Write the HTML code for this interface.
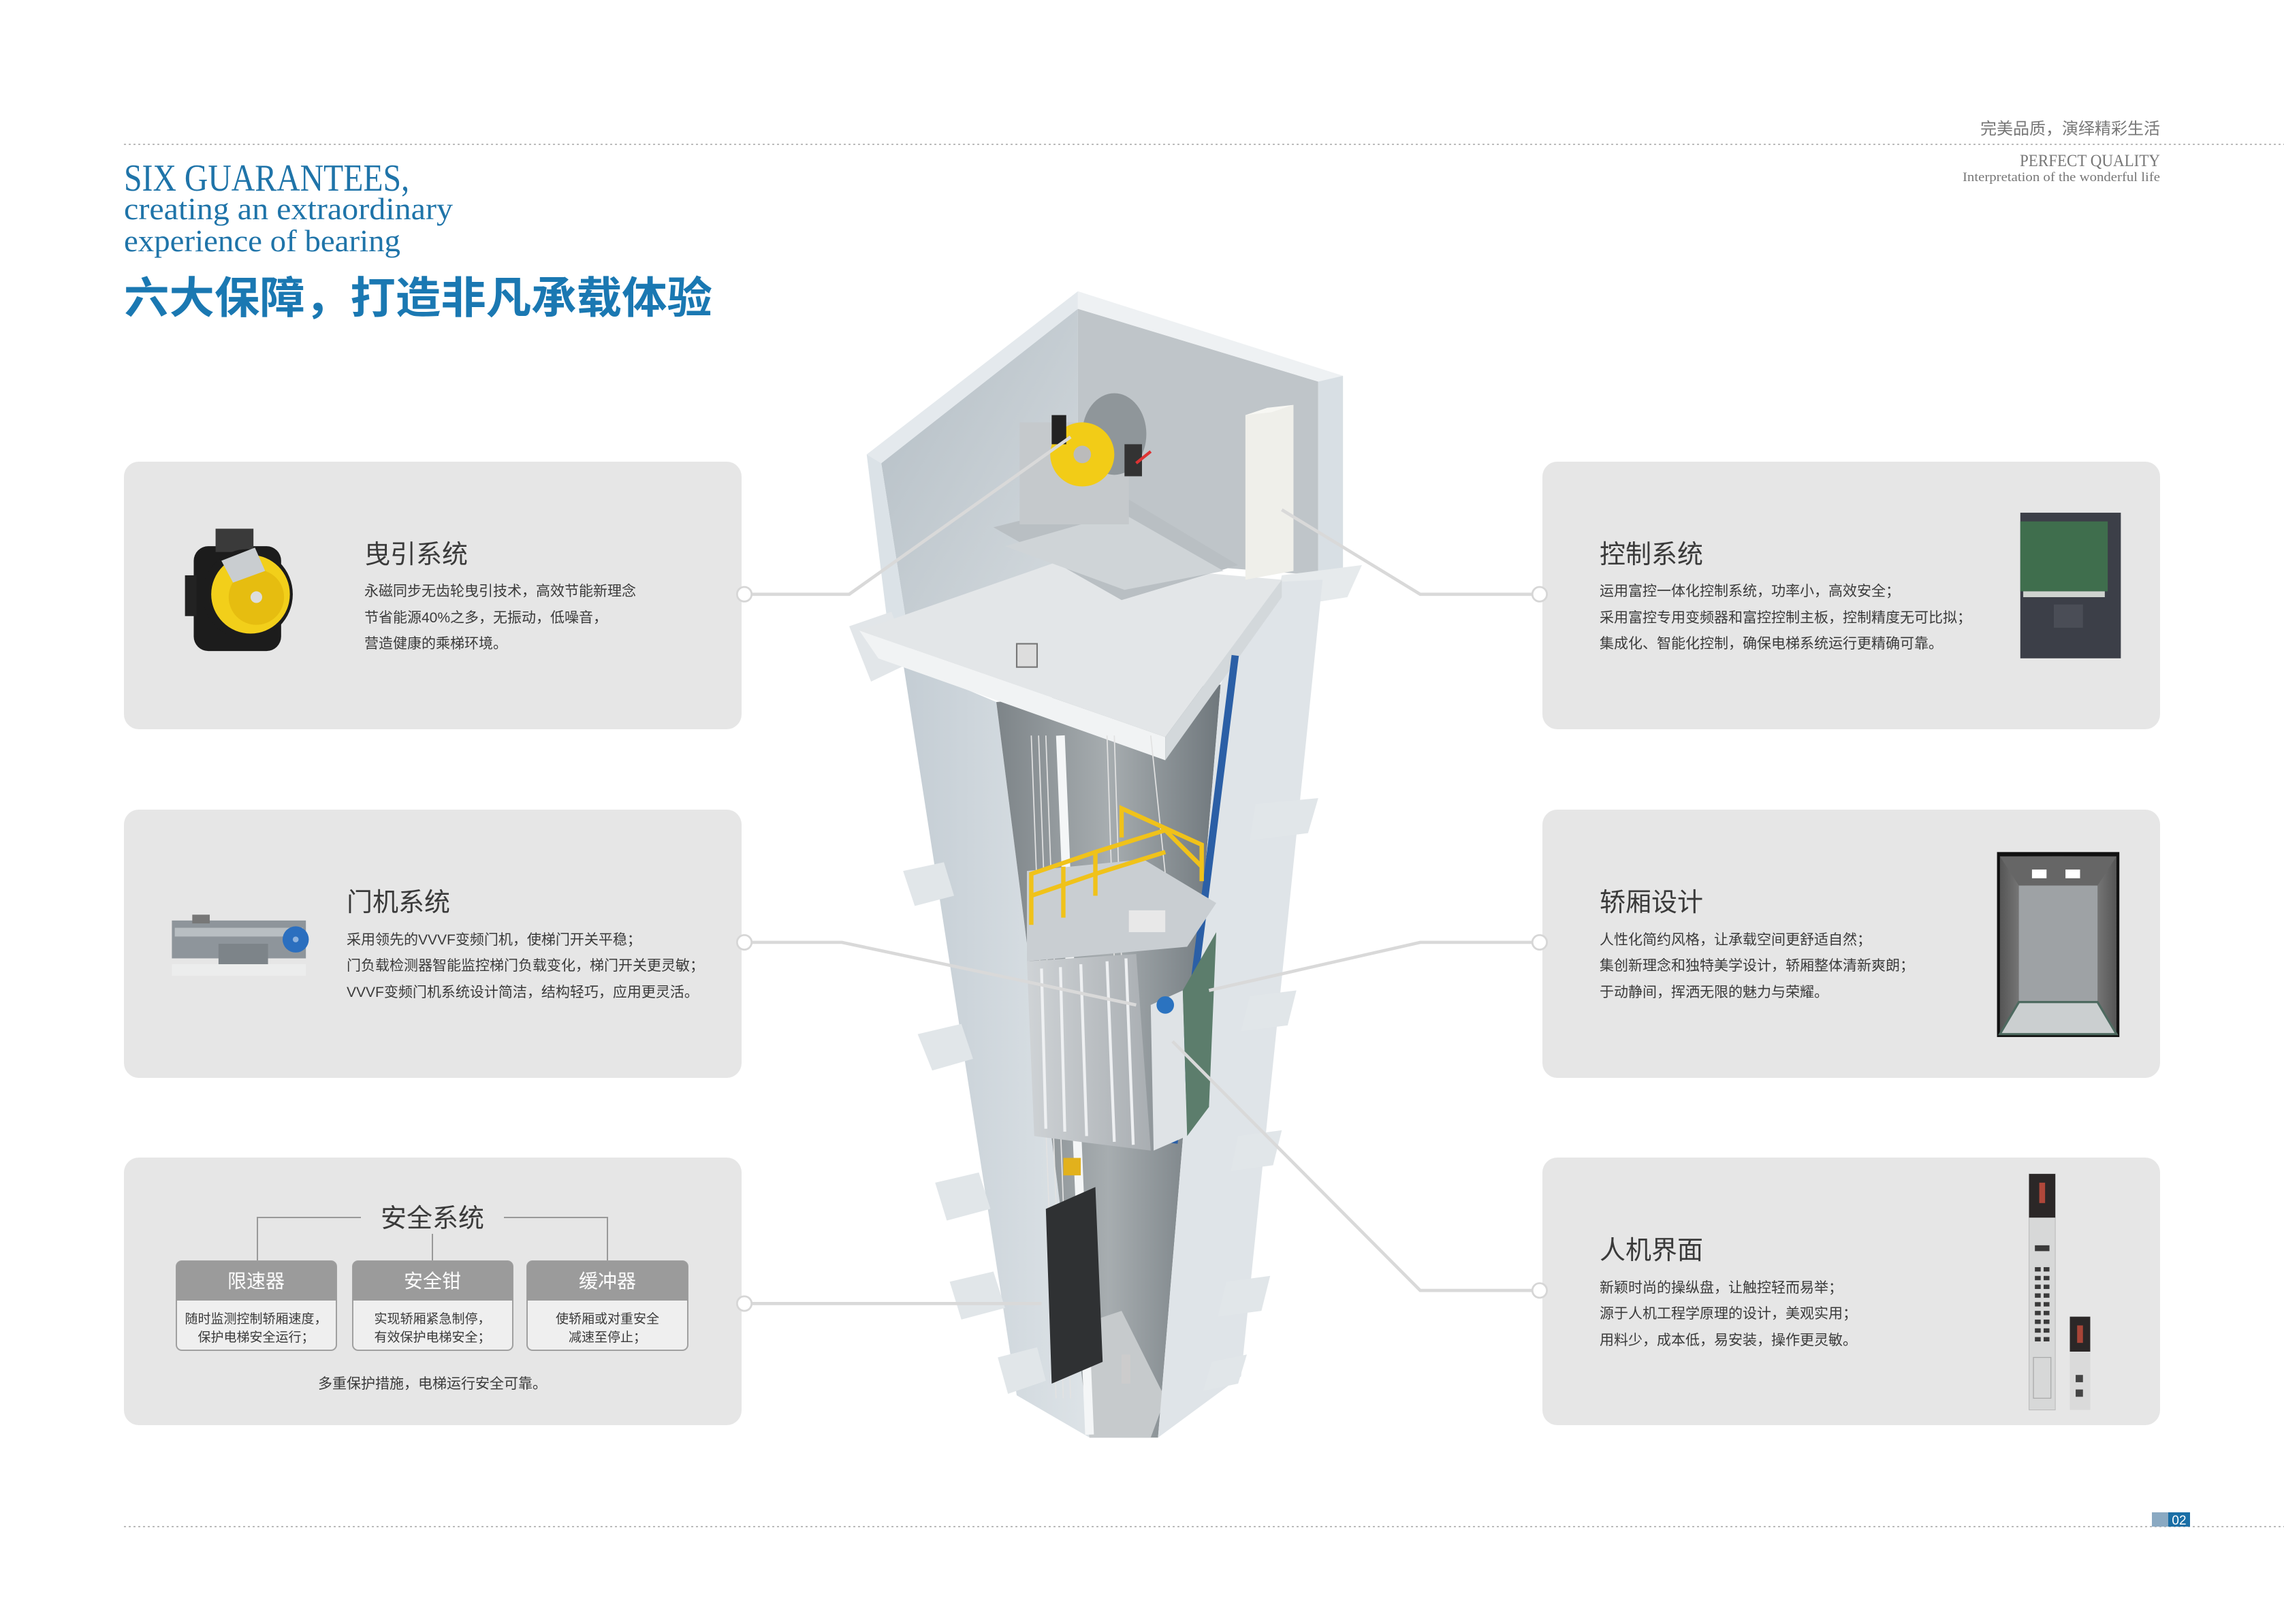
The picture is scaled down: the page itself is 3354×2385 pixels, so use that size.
<!DOCTYPE html>
<html><head><meta charset="utf-8"><style>
html,body{margin:0;padding:0;background:#fff;}
svg{display:block;}
text{font-family:"Liberation Sans","Noto Sans CJK SC",sans-serif;}
.serif{font-family:"Liberation Serif","Noto Serif CJK SC",serif;}
</style></head><body>
<svg width="3354" height="2385" viewBox="0 0 3354 2385" xmlns="http://www.w3.org/2000/svg">
<defs>
<linearGradient id="lf" x1="0" x2="1" y1="0" y2="0"><stop offset="0" stop-color="#c4cdd4"/><stop offset="1" stop-color="#dde3e7"/></linearGradient>
<linearGradient id="inr" x1="0" x2="1"><stop offset="0" stop-color="#7d8488"/><stop offset=".5" stop-color="#a7adb0"/><stop offset="1" stop-color="#6f777c"/></linearGradient>
<linearGradient id="wall" x1="0" y1="0" x2="1" y2="1"><stop offset="0" stop-color="#b3bdc4"/><stop offset="1" stop-color="#d6dce0"/></linearGradient>
<linearGradient id="car" x1="0" x2="1"><stop offset="0" stop-color="#cfd3d6"/><stop offset="1" stop-color="#a9aeb2"/></linearGradient>
<linearGradient id="cab" x1="0" x2="1"><stop offset="0" stop-color="#555"/><stop offset=".5" stop-color="#b8b8b8"/><stop offset="1" stop-color="#555"/></linearGradient>
</defs>
<rect width="3354" height="2385" fill="#fff"/>

<!-- dotted lines -->
<line x1="182" y1="212" x2="3354" y2="212" stroke="#bbb" stroke-width="2" stroke-dasharray="3,4"/>
<line x1="182" y1="2242" x2="3354" y2="2242" stroke="#bbb" stroke-width="2" stroke-dasharray="3,4"/>

<!-- header right -->
<text x="3172" y="197" text-anchor="end" font-size="24" fill="#777">完美品质，演绎精彩生活</text>
<text class="serif" x="3172" y="244" text-anchor="end" font-size="25" fill="#777" textLength="206" lengthAdjust="spacingAndGlyphs">PERFECT QUALITY</text>
<text class="serif" x="3172" y="266" text-anchor="end" font-size="19" fill="#777" textLength="290" lengthAdjust="spacingAndGlyphs">Interpretation of the wonderful life</text>

<!-- title -->
<text class="serif" x="182" y="280" font-size="56" fill="#1f74a9" textLength="419" lengthAdjust="spacingAndGlyphs">SIX GUARANTEES,</text>
<text class="serif" x="182" y="322" font-size="46" fill="#1f74a9" textLength="483" lengthAdjust="spacingAndGlyphs">creating an extraordinary</text>
<text class="serif" x="182" y="369" font-size="46" fill="#1f74a9" textLength="406" lengthAdjust="spacingAndGlyphs">experience of bearing</text>
<text x="182" y="460" font-size="64" font-weight="bold" fill="#1a78b2" textLength="864" lengthAdjust="spacingAndGlyphs" style="font-family:'Noto Sans CJK SC',sans-serif">六大保障，打造非凡承载体验</text>

<!-- panels -->
<g fill="#e6e6e6">
<rect x="182" y="678" width="907" height="393" rx="22"/>
<rect x="182" y="1189" width="907" height="394" rx="22"/>
<rect x="182" y="1700" width="907" height="393" rx="22"/>
<rect x="2265" y="678" width="907" height="393" rx="22"/>
<rect x="2265" y="1189" width="907" height="394" rx="22"/>
<rect x="2265" y="1700" width="907" height="393" rx="22"/>
</g>

<!-- panel texts -->
<g fill="#3a3a3a">
<text x="535" y="827" font-size="38">曳引系统</text>
<g font-size="21"><text x="535" y="875">永磁同步无齿轮曳引技术，高效节能新理念</text>
<text x="535" y="914">节省能源40%之多，无振动，低噪音，</text>
<text x="535" y="952">营造健康的乘梯环境。</text></g>

<text x="509" y="1338" font-size="38">门机系统</text>
<g font-size="21"><text x="509" y="1387">采用领先的VVVF变频门机，使梯门开关平稳；</text>
<text x="509" y="1425">门负载检测器智能监控梯门负载变化，梯门开关更灵敏；</text>
<text x="509" y="1464">VVVF变频门机系统设计简洁，结构轻巧，应用更灵活。</text></g>

<text x="2349" y="827" font-size="38">控制系统</text>
<g font-size="21"><text x="2349" y="875">运用富控一体化控制系统，功率小，高效安全；</text>
<text x="2349" y="914">采用富控专用变频器和富控控制主板，控制精度无可比拟；</text>
<text x="2349" y="952">集成化、智能化控制，确保电梯系统运行更精确可靠。</text></g>

<text x="2349" y="1338" font-size="38">轿厢设计</text>
<g font-size="21"><text x="2349" y="1387">人性化简约风格，让承载空间更舒适自然；</text>
<text x="2349" y="1425">集创新理念和独特美学设计，轿厢整体清新爽朗；</text>
<text x="2349" y="1464">于动静间，挥洒无限的魅力与荣耀。</text></g>

<text x="2349" y="1849" font-size="38">人机界面</text>
<g font-size="21"><text x="2349" y="1898">新颖时尚的操纵盘，让触控轻而易举；</text>
<text x="2349" y="1936">源于人机工程学原理的设计，美观实用；</text>
<text x="2349" y="1975">用料少，成本低，易安装，操作更灵敏。</text></g>

<!-- safety -->
<text x="635" y="1802" font-size="38" text-anchor="middle">安全系统</text>
<g stroke="#999" stroke-width="2" fill="none">
<polyline points="378,1852 378,1788 530,1788"/>
<polyline points="892,1852 892,1788 740,1788"/>
<line x1="635" y1="1812" x2="635" y2="1852"/>
</g>
<g>
<rect x="259" y="1852" width="235" height="131" rx="8" fill="#efefef" stroke="#a0a0a0" stroke-width="2"/>
<path d="M259 1910 V1860 a8 8 0 0 1 8 -8 H486 a8 8 0 0 1 8 8 V1910 Z" fill="#9b9b9b"/>
<rect x="518" y="1852" width="235" height="131" rx="8" fill="#efefef" stroke="#a0a0a0" stroke-width="2"/>
<path d="M518 1910 V1860 a8 8 0 0 1 8 -8 H745 a8 8 0 0 1 8 8 V1910 Z" fill="#9b9b9b"/>
<rect x="774" y="1852" width="236" height="131" rx="8" fill="#efefef" stroke="#a0a0a0" stroke-width="2"/>
<path d="M774 1910 V1860 a8 8 0 0 1 8 -8 H1002 a8 8 0 0 1 8 8 V1910 Z" fill="#9b9b9b"/>
</g>
<g font-size="28" fill="#fff" text-anchor="middle">
<text x="376" y="1891">限速器</text><text x="635" y="1891">安全钳</text><text x="892" y="1891">缓冲器</text>
</g>
<g font-size="19" text-anchor="middle">
<text x="376" y="1943">随时监测控制轿厢速度，</text><text x="376" y="1970">保护电梯安全运行；</text>
<text x="635" y="1943">实现轿厢紧急制停，</text><text x="635" y="1970">有效保护电梯安全；</text>
<text x="892" y="1943">使轿厢或对重安全</text><text x="892" y="1970">减速至停止；</text>
</g>
<text x="635" y="2039" font-size="21" text-anchor="middle">多重保护措施，电梯运行安全可靠。</text>
</g>

<!-- page number -->
<rect x="3160" y="2221" width="24" height="21" fill="#8aa9c2"/>
<rect x="3184" y="2221" width="32" height="21" fill="#1b6fa6"/>
<text x="3200" y="2239" font-size="19" fill="#fff" text-anchor="middle">02</text>

<!-- graphics in display coords -->
<g transform="scale(2.139)">
<!-- shaft upper walls -->
<polygon points="605,318 740,212 740,382 625,445" fill="url(#wall)"/>
<polygon points="740,212 905,262 905,395 740,382" fill="#bfc5c9"/>
<polygon points="595,312 740,200 740,212 605,318" fill="#e4e9ed"/>
<polygon points="740,200 922,258 905,262 740,212" fill="#eef1f3"/>
<polygon points="595,312 605,318 625,445 612,450" fill="#dbe2e7"/>
<polygon points="905,262 922,258 922,398 905,402" fill="#d8dfe4"/>
<!-- flanges upper -->
<polygon points="583,430 612,420 625,455 598,468" fill="#e2e6e9"/>
<polygon points="880,395 935,388 925,410 875,418" fill="#e6eaec"/>
<!-- shaft body -->
<polygon points="620,455 684,482 748,987 698,958" fill="url(#lf)"/>
<polygon points="684,482 838,470 795,987 748,987" fill="url(#inr)"/>
<polygon points="740,910 770,900 800,960 790,987 748,987" fill="#c6cacc"/>
<polygon points="838,470 868,400 908,398 852,945 795,987" fill="#dfe4e8"/>
<!-- fins -->
<g fill="#e1e6e9">
<polygon points="620,598 648,592 655,615 628,622"/>
<polygon points="630,710 660,703 668,727 640,735"/>
<polygon points="642,812 672,805 680,830 650,838"/>
<polygon points="652,880 682,873 690,898 660,906"/>
<polygon points="685,932 712,925 718,948 692,957"/>
<polygon points="862,552 905,548 898,572 858,577"/>
<polygon points="858,684 890,680 884,704 852,708"/>
<polygon points="850,780 880,776 874,800 845,804"/>
<polygon points="842,880 872,876 866,900 836,904"/>
<polygon points="832,935 856,930 850,950 826,955"/>
</g>
<!-- slab -->
<polygon points="590,433 728,385 880,398 800,506" fill="#e3e6e8"/>
<polygon points="590,433 800,506 800,522 603,452" fill="#f1f3f4"/>
<polygon points="800,506 880,398 880,410 800,522" fill="#d3d8db"/>
<!-- machine -->
<polygon points="682,362 770,340 850,388 770,412" fill="#b9bfc3"/>
<polygon points="690,375 770,352 840,392 772,405" fill="#cfd4d7"/>
<rect x="700" y="290" width="75" height="70" fill="#c5c9cc"/>
<ellipse cx="765" cy="298" rx="22" ry="28" fill="#8f969a"/>
<circle cx="743" cy="312" r="22" fill="#f2cc17"/>
<circle cx="743" cy="312" r="6" fill="#bbb"/>
<rect x="722" y="285" width="10" height="20" fill="#222"/>
<rect x="772" y="305" width="12" height="22" fill="#333"/>
<line x1="780" y1="318" x2="790" y2="310" stroke="#d33" stroke-width="2"/>
<rect x="698" y="442" width="14" height="16" fill="#ddd" stroke="#777"/>
<!-- cabinet -->
<polygon points="855,285 888,278 888,392 855,398" fill="#efefea"/>
<polygon points="855,285 870,280 888,278 873,283" fill="#f7f7f3"/>
<!-- interior details -->
<line x1="728" y1="505" x2="748" y2="985" stroke="#f4f6f7" stroke-width="6"/>
<line x1="848" y1="450" x2="806" y2="785" stroke="#2b5fa6" stroke-width="5"/>
<g stroke="#e2e2e2" stroke-width="0.8">
<line x1="708" y1="505" x2="725" y2="960"/><line x1="713" y1="505" x2="730" y2="960"/>
<line x1="718" y1="505" x2="735" y2="960"/><line x1="760" y1="505" x2="765" y2="660"/>
<line x1="765" y1="505" x2="770" y2="660"/><line x1="790" y1="505" x2="800" y2="600"/>
</g>
<!-- car -->
<polygon points="705,598 785,590 835,620 815,650 705,660" fill="#c9ced2"/>
<polygon points="705,660 780,655 790,790 710,780" fill="url(#car)"/>
<g stroke="#eef0f2" stroke-width="2">
<line x1="715" y1="665" x2="718" y2="775"/><line x1="728" y1="664" x2="731" y2="777"/>
<line x1="742" y1="662" x2="746" y2="780"/><line x1="760" y1="660" x2="765" y2="784"/>
<line x1="773" y1="658" x2="778" y2="786"/>
</g>
<polygon points="790,690 812,680 815,780 792,790" fill="#dfe3e6"/>
<polygon points="812,680 835,640 830,760 815,780" fill="#5c7d6c"/>
<circle cx="800" cy="690" r="6" fill="#2b73c0"/>
<g stroke="#f0c21a" stroke-width="3" fill="none">
<polyline points="708,635 708,600 752,585 800,570 825,595"/>
<polyline points="708,615 752,600 800,585"/>
<line x1="730" y1="595" x2="730" y2="630"/><line x1="752" y1="585" x2="752" y2="615"/>
<polyline points="770,575 770,555 825,580 825,605"/>
</g>
<rect x="775" y="625" width="25" height="15" fill="#e8e8e8"/>
<!-- counterweight -->
<polygon points="718,830 752,815 757,935 722,950" fill="#2f3133"/>
<rect x="730" y="795" width="12" height="12" fill="#e2b11c"/>
<rect x="770" y="930" width="6" height="20" fill="#ccc"/>

<!-- connectors -->
<g stroke="#d9d9d9" stroke-width="2.2" fill="none">
<polyline points="509,408 583,408 735,300"/>
<polyline points="509,647 578,647 780,690"/>
<polyline points="509,895 715,895"/>
<polyline points="1059,408 975,408 880,350"/>
<polyline points="1059,647 975,647 830,680"/>
<polyline points="1059,886 975,886 805,715"/>
</g>
<g fill="#fff" stroke="#d6d6d6" stroke-width="1.3">
<circle cx="511" cy="408" r="5"/><circle cx="511" cy="647" r="5"/><circle cx="511" cy="895" r="5"/>
<circle cx="1057" cy="408" r="5"/><circle cx="1057" cy="647" r="5"/><circle cx="1057" cy="886" r="5"/>
</g>

<!-- motor image -->
<rect x="133" y="375" width="60" height="72" rx="10" fill="#1c1c1c"/>
<rect x="148" y="363" width="26" height="16" fill="#3a3a3a"/>
<rect x="127" y="395" width="8" height="28" fill="#222"/>
<circle cx="170" cy="408" r="31" fill="#1c1c1c"/>
<circle cx="172" cy="408" r="27" fill="#f2cf1a"/>
<circle cx="176" cy="410" r="19" fill="#e6bd10"/>
<circle cx="176" cy="410" r="4" fill="#ddd"/>
<polygon points="152,385 175,376 182,392 160,400" fill="#c9cdd0"/>
<!-- door operator -->
<rect x="118" y="632" width="92" height="26" fill="#8e959b"/>
<rect x="120" y="637" width="88" height="6" fill="#b8bec2"/>
<rect x="150" y="648" width="34" height="18" fill="#7d8489"/>
<rect x="132" y="628" width="12" height="6" fill="#777"/>
<circle cx="203" cy="645" r="9" fill="#2b6fbf"/>
<circle cx="203" cy="645" r="2" fill="#8fb3de"/>
<rect x="118" y="662" width="92" height="8" fill="#eceded"/>
<!-- control -->
<rect x="1387" y="352" width="69" height="100" fill="#3c3f48"/>
<rect x="1387" y="358" width="60" height="48" fill="#3f6e4d"/>
<rect x="1389" y="406" width="56" height="4" fill="#cfd3cf"/>
<rect x="1410" y="415" width="20" height="16" fill="#4a4d56"/>
<!-- car interior -->
<rect x="1371" y="585" width="84" height="127" fill="#111"/>
<rect x="1373" y="588" width="80" height="122" fill="url(#cab)"/>
<polygon points="1373,588 1453,588 1440,608 1386,608" fill="#666"/>
<rect x="1395" y="597" width="10" height="6" fill="#fff"/><rect x="1418" y="597" width="10" height="6" fill="#fff"/>
<rect x="1386" y="608" width="54" height="80" fill="#9ea2a5"/>
<polygon points="1386,688 1440,688 1453,710 1373,710" fill="#cbcfd0" stroke="#4e6a60" stroke-width="1.5"/>
<!-- COP -->
<rect x="1393" y="806" width="18" height="162" fill="#d7d8d8" stroke="#bbb" stroke-width=".5"/>
<rect x="1393" y="806" width="18" height="30" fill="#2b2727"/>
<rect x="1400" y="812" width="4" height="14" fill="#b0473a"/>
<g fill="#3a3a3a">
<rect x="1397" y="870" width="4" height="3"/><rect x="1403" y="870" width="4" height="3"/>
<rect x="1397" y="876" width="4" height="3"/><rect x="1403" y="876" width="4" height="3"/>
<rect x="1397" y="882" width="4" height="3"/><rect x="1403" y="882" width="4" height="3"/>
<rect x="1397" y="888" width="4" height="3"/><rect x="1403" y="888" width="4" height="3"/>
<rect x="1397" y="894" width="4" height="3"/><rect x="1403" y="894" width="4" height="3"/>
<rect x="1397" y="900" width="4" height="3"/><rect x="1403" y="900" width="4" height="3"/>
<rect x="1397" y="906" width="4" height="3"/><rect x="1403" y="906" width="4" height="3"/>
<rect x="1397" y="912" width="4" height="3"/><rect x="1403" y="912" width="4" height="3"/>
<rect x="1397" y="918" width="4" height="3"/><rect x="1403" y="918" width="4" height="3"/>
<rect x="1397" y="855" width="10" height="4"/>
</g>
<rect x="1396" y="932" width="12" height="28" fill="none" stroke="#aaa" stroke-width=".6"/>
<rect x="1421" y="904" width="14" height="64" fill="#dadada"/>
<rect x="1421" y="904" width="14" height="24" fill="#2b2727"/>
<rect x="1426" y="910" width="4" height="12" fill="#a84437"/>
<rect x="1425" y="944" width="5" height="5" fill="#444"/><rect x="1425" y="954" width="5" height="5" fill="#444"/>
</g>
</svg>
</body></html>
